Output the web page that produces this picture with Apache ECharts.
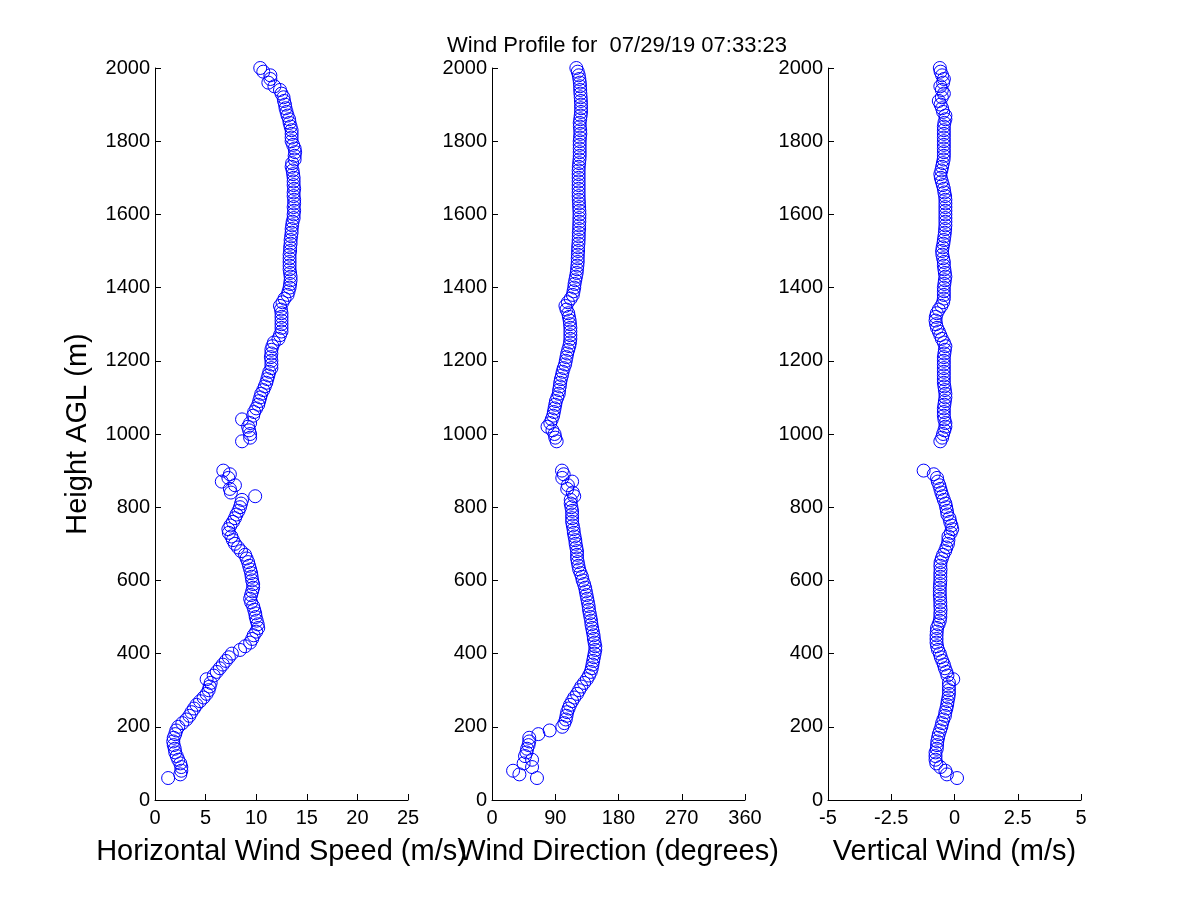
<!DOCTYPE html>
<html>
<head>
<meta charset="utf-8">
<script src="https://cdn.jsdelivr.net/npm/echarts@6/dist/echarts.min.js"></script>
<style>
html,body{margin:0;padding:0;background:#fff;}
#chart{width:1200px;height:900px;}
</style>
</head>
<body>
<div id="chart"></div>
<script>
var titleText = 'Wind Profile for  07/29/19 07:33:23';

var heightsLow = [
  60,70,80,90,100,110,120,130,140,150,
  160,170,180,190,200,210,220,230,240,250,
  260,270,280,290,300,310,320,330,340,350,
  360,370,380,390,400,410,420,430,440,450,
  460,470,480,490,500,510,520,530,540,550,
  560,570,580,590,600,610,620,630,640,650,
  660,670,680,690,700,710,720,730,740,750,
  760,770,780,790,800,810,820,830,840,850,
  860,870,880,890,900
];
var heightsHigh = [
  980,990,1000,1010,1020,1030,1040,1050,1060,1070,
  1080,1090,1100,1110,1120,1130,1140,1150,1160,1170,
  1180,1190,1200,1210,1220,1230,1240,1250,1260,1270,
  1280,1290,1300,1310,1320,1330,1340,1350,1360,1370,
  1380,1390,1400,1410,1420,1430,1440,1450,1460,1470,
  1480,1490,1500,1510,1520,1530,1540,1550,1560,1570,
  1580,1590,1600,1610,1620,1630,1640,1650,1660,1670,
  1680,1690,1700,1710,1720,1730,1740,1750,1760,1770,
  1780,1790,1800,1810,1820,1830,1840,1850,1860,1870,
  1880,1890,1900,1910,1920,1930,1940,1950,1960,1970,
  1980,1990,2000
];

var speedLow = [
  1.3,2.5,2.6,2.6,2.5,2.3,2.15,2.0,1.95,1.85,
  1.8,1.85,2.0,2.1,2.3,2.7,3.1,3.4,3.6,3.85,
  4.1,4.45,4.8,5.1,5.3,5.4,5.5,5.1,5.8,6.1,
  6.4,6.7,7.0,7.3,7.6,8.4,8.9,9.4,9.6,9.75,
  10.0,10.2,10.15,10.05,9.95,9.9,9.8,9.7,9.5,9.4,
  9.5,9.6,9.7,9.7,9.6,9.55,9.5,9.4,9.3,9.2,
  9.05,8.9,8.5,8.2,7.9,7.7,7.55,7.3,7.25,7.45,
  7.7,7.9,8.05,8.25,8.4,8.5,8.6,9.9,7.5,7.4,
  7.9,6.6,7.25,7.4,6.75
];
var speedHigh = [
  8.6,9.4,9.4,9.3,9.2,9.4,8.6,9.7,9.8,10.0,
  10.2,10.3,10.4,10.5,10.7,10.85,11.0,11.1,11.2,11.3,
  11.5,11.5,11.5,11.45,11.5,11.5,11.6,11.75,12.2,12.35,
  12.5,12.5,12.5,12.5,12.5,12.5,12.45,12.35,12.6,12.8,
  13.1,13.2,13.3,13.35,13.4,13.4,13.35,13.3,13.3,13.3,
  13.3,13.3,13.35,13.35,13.4,13.4,13.45,13.5,13.5,13.55,
  13.6,13.7,13.7,13.75,13.7,13.75,13.75,13.7,13.7,13.75,
  13.7,13.7,13.7,13.65,13.6,13.5,13.55,13.8,13.8,13.85,
  13.8,13.65,13.5,13.5,13.5,13.5,13.4,13.3,13.25,13.1,
  13.0,12.9,12.85,12.75,12.7,12.5,12.35,11.8,11.2,11.4,
  11.4,10.7,10.4
];

var dirLow = [
  64,39,30,57,45,57,47,49,50,52,
  53,53,66,82,100,103,105,106,107,109,
  111,114,117,121,124,127,131,135,138,140.5,
  142,143,144,145,146,147,147,146,145,144.5,
  143.5,142.5,141.5,141,140,139,138,137.5,136.5,135.5,
  134.5,133.5,132.5,131,129,128,126,124,123,122,
  121,121,121,120,119,118.5,117.5,116.5,116,115,
  114,114,114,114,113,112,112,117,115,107,
  108,114,100,102,99.6
];
var dirHigh = [
  92,90,89,86,79,83,85,87,88,89,
  90,91,93,95,95.5,96.5,97,98,99.5,100.5,
  102,104,105,106,107,108.5,110,111,111.5,111.5,
  111.5,111.5,111,110.5,109.5,108.5,106,104.5,108,112,
  115,116,117,117.5,118.5,119.5,120.5,121,121.5,122,
  122,122.2,122.5,122.5,123,123.3,123.5,123.5,124,124,
  124.3,124.3,124.5,124.3,124,123.8,123.5,123.3,123.3,123.3,
  123.3,123.3,123.3,123.3,123.3,123.5,124,124.5,124.8,124.8,
  124.8,124.8,124.8,125.2,125.7,125.5,125,124.8,125.5,126.2,
  126.7,126.7,126.7,126.5,126.2,125.8,125.5,125.3,125,124.3,
  123.5,122,120
];

var vertLow = [
  0.1,-0.3,-0.36,-0.56,-0.72,-0.75,-0.75,-0.75,-0.7,-0.69,
  -0.68,-0.65,-0.62,-0.57,-0.52,-0.49,-0.44,-0.38,-0.36,-0.32,
  -0.29,-0.27,-0.24,-0.22,-0.22,-0.22,-0.22,-0.05,-0.28,-0.32,
  -0.38,-0.42,-0.48,-0.54,-0.58,-0.65,-0.69,-0.71,-0.71,-0.71,
  -0.7,-0.69,-0.63,-0.58,-0.56,-0.56,-0.55,-0.56,-0.56,-0.57,
  -0.58,-0.58,-0.58,-0.57,-0.56,-0.56,-0.56,-0.55,-0.56,-0.55,
  -0.5,-0.45,-0.37,-0.32,-0.26,-0.24,-0.24,-0.15,-0.09,-0.12,
  -0.17,-0.2,-0.28,-0.3,-0.33,-0.36,-0.42,-0.47,-0.52,-0.56,
  -0.6,-0.66,-0.69,-0.82,-1.22
];
var vertHigh = [
  -0.56,-0.49,-0.45,-0.4,-0.36,-0.36,-0.4,-0.42,-0.42,-0.42,
  -0.4,-0.38,-0.36,-0.36,-0.38,-0.4,-0.42,-0.42,-0.42,-0.42,
  -0.42,-0.42,-0.42,-0.42,-0.4,-0.38,-0.36,-0.42,-0.5,-0.56,
  -0.62,-0.69,-0.73,-0.75,-0.74,-0.7,-0.62,-0.52,-0.45,-0.42,
  -0.42,-0.42,-0.42,-0.4,-0.38,-0.36,-0.38,-0.4,-0.42,-0.42,
  -0.45,-0.48,-0.49,-0.47,-0.44,-0.42,-0.4,-0.38,-0.37,-0.36,
  -0.36,-0.36,-0.36,-0.36,-0.36,-0.36,-0.36,-0.37,-0.4,-0.42,
  -0.46,-0.5,-0.54,-0.56,-0.52,-0.49,-0.46,-0.43,-0.42,-0.42,
  -0.42,-0.42,-0.42,-0.42,-0.42,-0.42,-0.42,-0.4,-0.36,-0.36,
  -0.45,-0.49,-0.55,-0.62,-0.5,-0.42,-0.5,-0.56,-0.45,-0.42,
  -0.49,-0.55,-0.58
];

var xNames = ['Horizontal Wind Speed (m/s)', 'Wind Direction (degrees)', 'Vertical Wind (m/s)'];
var yName = 'Height AGL (m)';

function pairs(xs, hs) {
  var out = [];
  for (var i = 0; i < xs.length; i++) out.push([xs[i], hs[i]]);
  return out;
}

var FONT = '"Liberation Sans", Arial, Helvetica, sans-serif';
var chart = echarts.init(document.getElementById('chart'), null, {renderer: 'canvas'});

var lefts = [155, 492, 828];
var grids = lefts.map(function (l) {
  return {left: l, width: 253, top: 68, height: 732, containLabel: false};
});

var xRanges = [
  {min: 0, max: 25, interval: 5},
  {min: 0, max: 360, interval: 90},
  {min: -5, max: 5, interval: 2.5}
];

function plain(v) { return String(v); }

var xAxes = xRanges.map(function (r, i) {
  return {
    type: 'value', gridIndex: i, min: r.min, max: r.max, interval: r.interval,
    name: xNames[i], nameLocation: 'middle', nameGap: 37,
    nameTextStyle: {color: '#000', fontSize: 29, fontFamily: FONT},
    axisLine: {show: true, onZero: false, lineStyle: {color: '#000', width: 1}},
    axisTick: {show: true, inside: true, length: 6, lineStyle: {color: '#000'}},
    axisLabel: {color: '#000', fontSize: 20, fontFamily: FONT, margin: 8, formatter: plain},
    splitLine: {show: false}
  };
});
var yAxes = [0, 1, 2].map(function (i) {
  return {
    type: 'value', gridIndex: i, min: 0, max: 2000, interval: 200,
    name: i === 0 ? yName : '', nameLocation: 'middle', nameGap: 63,
    nameTextStyle: {color: '#000', fontSize: 29, fontFamily: FONT},
    axisLine: {show: true, onZero: false, lineStyle: {color: '#000', width: 1}},
    axisTick: {show: true, inside: true, length: 6, lineStyle: {color: '#000'}},
    axisLabel: {color: '#000', fontSize: 20, fontFamily: FONT, margin: 5, formatter: plain},
    splitLine: {show: false}
  };
});

var seriesData = [
  pairs(speedLow, heightsLow).concat(pairs(speedHigh, heightsHigh)),
  pairs(dirLow, heightsLow).concat(pairs(dirHigh, heightsHigh)),
  pairs(vertLow, heightsLow).concat(pairs(vertHigh, heightsHigh))
];

var series = seriesData.map(function (d, i) {
  return {
    type: 'scatter', xAxisIndex: i, yAxisIndex: i, data: d,
    symbol: 'circle', symbolSize: 13,
    itemStyle: {color: 'rgba(0,0,0,0)', borderColor: '#0000ff', borderWidth: 1, opacity: 1},
    emphasis: {disabled: true},
    silent: true
  };
});

chart.setOption({
  animation: false,
  backgroundColor: '#fff',
  title: {
    text: titleText, left: 612, top: 30, textAlign: 'center',
    textStyle: {color: '#000', fontSize: 22, fontWeight: 'normal', fontFamily: FONT}
  },
  grid: grids,
  xAxis: xAxes,
  yAxis: yAxes,
  series: series
});
</script>
</body>
</html>
